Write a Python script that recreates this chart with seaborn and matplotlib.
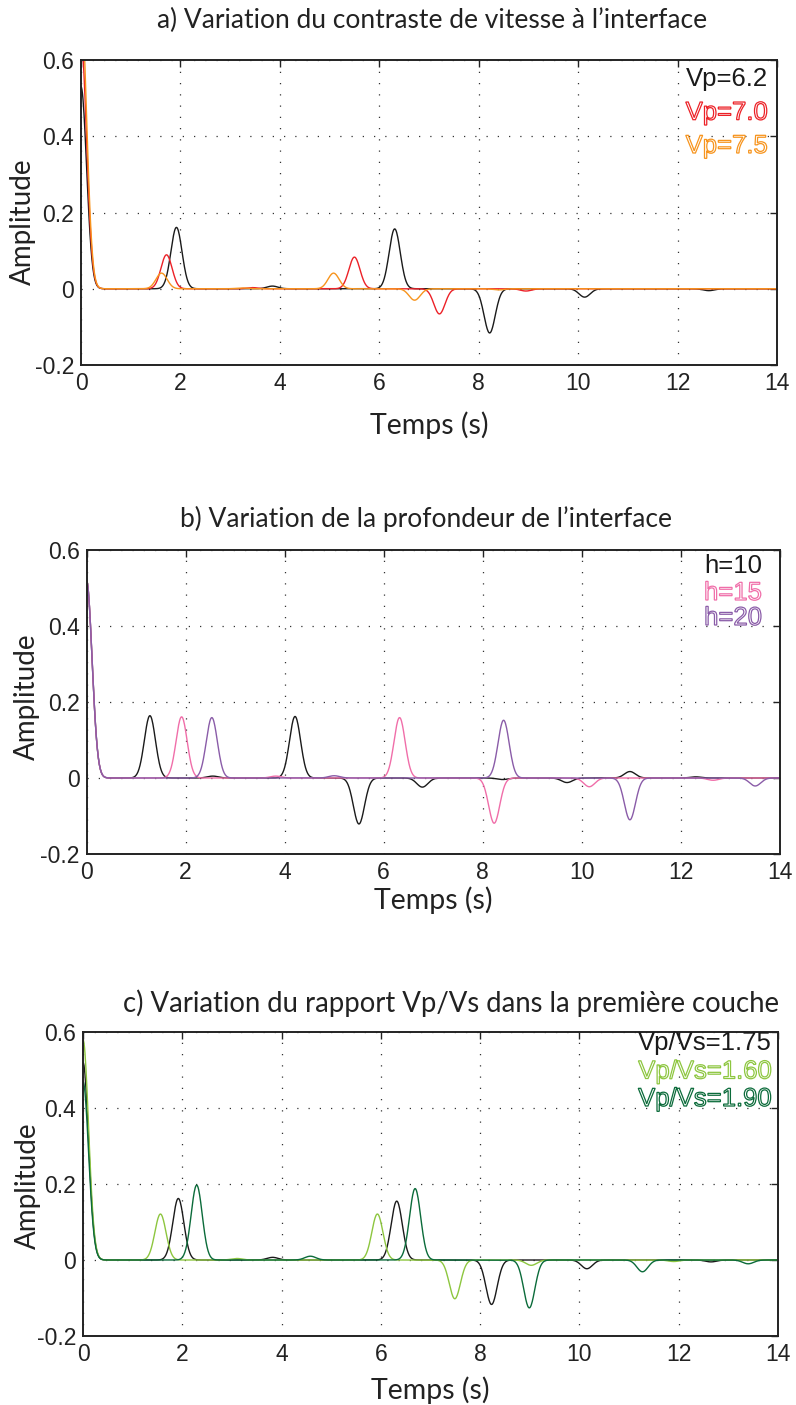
import numpy as np
import pandas as pd
import matplotlib
matplotlib.use("Agg")
import matplotlib.pyplot as plt
import matplotlib.patheffects as pe
import seaborn as sns

# ---------------- data (arrival times in s, amplitudes) ----------------
# Panel a) velocity contrast at the interface
a_vp62_times = [0.00, 1.92, 3.85, 6.31, 8.22, 10.13, 12.63]
a_vp62_amps = [0.53, 0.161, 0.007, 0.157, -0.116, -0.022, -0.005]
a_vp70_times = [0.00, 1.72, 3.45, 5.50, 7.21, 8.95]
a_vp70_amps = [0.65, 0.089, 0.003, 0.083, -0.066, -0.006]
a_vp75_times = [0.00, 1.62, 3.25, 5.08, 6.71, 8.40]
a_vp75_amps = [0.75, 0.041, 0.002, 0.041, -0.030, -0.003]

# Panel b) interface depth
b_h10_times = [0.00, 1.28, 2.55, 4.21, 5.50, 6.78, 8.40, 9.70, 10.97, 12.30]
b_h10_amps = [0.52, 0.164, 0.005, 0.162, -0.121, -0.024, -0.004, -0.012, 0.017, 0.003]
b_h15_times = [0.00, 1.92, 3.82, 6.32, 8.23, 10.15, 12.65]
b_h15_amps = [0.52, 0.161, 0.005, 0.159, -0.119, -0.023, -0.006]
b_h20_times = [0.00, 2.53, 5.00, 8.42, 10.97, 13.50]
b_h20_amps = [0.52, 0.159, 0.006, 0.152, -0.110, -0.021]

# Panel c) Vp/Vs ratio in the first layer
c_175_times = [0.00, 1.92, 3.82, 6.32, 8.23, 10.15, 12.65]
c_175_amps = [0.52, 0.162, 0.007, 0.155, -0.117, -0.023, -0.005]
c_160_times = [0.00, 1.56, 3.10, 5.93, 7.49, 9.03, 11.90]
c_160_amps = [0.58, 0.121, 0.004, 0.121, -0.102, -0.014, -0.004]
c_190_times = [0.00, 2.29, 4.58, 6.69, 8.99, 11.27, 13.40]
c_190_amps = [0.47, 0.197, 0.010, 0.188, -0.126, -0.031, -0.010]

titles = ["a) Variation du contraste de vitesse à l\u2019interface",
          "b) Variation de la profondeur de l\u2019interface",
          "c) Variation du rapport Vp/Vs dans la première couche"]
labels_a = ["Vp=6.2", "Vp=7.0", "Vp=7.5"]
labels_b = ["h=10", "h=15", "h=20"]
labels_c = ["Vp/Vs=1.75", "Vp/Vs=1.60", "Vp/Vs=1.90"]
colors_a = ["#1a1a1a", "#ec2127", "#f7941d"]
colors_b = ["#1a1a1a", "#f06ea9", "#8a5ca8"]
colors_c = ["#1a1a1a", "#8dc63f", "#0b6b3a"]
xticks = [0, 2, 4, 6, 8, 10, 12, 14]
yticks = [-0.2, 0, 0.2, 0.4, 0.6]
ytick_labels = ["-0.2", "0", "0.2", "0.4", "0.6"]

GAUSS_SIGMA = 0.112  # width of the Gaussian pulse (s)
t = np.linspace(0, 14, 1401)


def trace(times, amps):
    """Gaussian-filtered spike series (receiver-function style)."""
    out = np.zeros_like(t)
    for ti, ai in zip(times, amps):
        out += ai * np.exp(-((t - ti) ** 2) / (2 * GAUSS_SIGMA ** 2))
    return out


def frame(series):
    rows = []
    for name, (times, amps) in series.items():
        rows.append(pd.DataFrame({"t": t, "amp": trace(times, amps), "series": name}))
    return pd.concat(rows, ignore_index=True)


df_a = frame({labels_a[0]: (a_vp62_times, a_vp62_amps),
              labels_a[1]: (a_vp70_times, a_vp70_amps),
              labels_a[2]: (a_vp75_times, a_vp75_amps)})
df_b = frame({labels_b[0]: (b_h10_times, b_h10_amps),
              labels_b[1]: (b_h15_times, b_h15_amps),
              labels_b[2]: (b_h20_times, b_h20_amps)})
df_c = frame({labels_c[0]: (c_175_times, c_175_amps),
              labels_c[1]: (c_160_times, c_160_amps),
              labels_c[2]: (c_190_times, c_190_amps)})

# ---------------- style ----------------
sns.set_theme(style="white")
plt.rcParams["font.family"] = ["Liberation Sans", "DejaVu Sans"]
LABEL_FONT = ["Lato", "DejaVu Sans"]

W, H = 796, 1405
fig = plt.figure(figsize=(W / 100, H / 100), dpi=100)
fig.patch.set_facecolor("white")


def px_axes(left, top, right, bottom):
    return fig.add_axes([left / W, 1 - bottom / H, (right - left) / W, (bottom - top) / H])


panels = [
    dict(box=(81, 60, 777, 365), df=df_a, labels=labels_a, colors=colors_a,
         title_xy=(432, 20), title_fs=19, xlabel_y=425, ylabel_x=23, ylabel_y=222,
         leg_x=768, leg_y=[79, 112.7, 146]),
    dict(box=(86.5, 550, 780, 854), df=df_b, labels=labels_b, colors=colors_b,
         title_xy=(426, 519), title_fs=19, xlabel_y=900, ylabel_x=27, ylabel_y=697,
         leg_x=762, leg_y=[566, 593, 618]),
    dict(box=(83, 1032, 778, 1336), df=df_c, labels=labels_c, colors=colors_c,
         title_xy=(451, 1003), title_fs=19.8, xlabel_y=1390, ylabel_x=28, ylabel_y=1186,
         leg_x=772, leg_y=[1043, 1071.5, 1099]),
]

for i, p in enumerate(panels):
    l, tp, r, b = p["box"]
    ax = px_axes(l, tp, r, b)
    sns.lineplot(data=p["df"], x="t", y="amp", hue="series", hue_order=p["labels"],
                 palette=p["colors"], estimator=None, sort=False, legend=False,
                 linewidth=1.0, ax=ax)
    ax.set_xlim(0, 14)
    ax.set_ylim(-0.2, 0.6)
    ax.set_xticks(xticks)
    ax.set_xticklabels([str(x) for x in xticks])
    ax.set_yticks(yticks)
    ax.set_yticklabels(ytick_labels)
    ax.tick_params(direction="in", length=5, width=1.0, colors="#222222",
                   labelsize=16.5, labelcolor="#222222", top=True, right=True, pad=5)
    ax.grid(True, color="#333333", linestyle=(0, (1, 8)), linewidth=0.9)
    for s in ax.spines.values():
        s.set_visible(True)
        s.set_color("#222222")
        s.set_linewidth(1.4)
    ax.set_facecolor("white")

    # axis labels
    ax.set_xlabel("Temps (s)", fontsize=20.5, family=LABEL_FONT, color="#222222")
    ax.xaxis.set_label_coords(((l + r) / 2 - l) / (r - l), (b - p["xlabel_y"]) / (b - tp))
    ax.xaxis.label.set_va("center")
    ax.set_ylabel("Amplitude", fontsize=20, family=LABEL_FONT, color="#222222")
    ax.yaxis.set_label_coords((p["ylabel_x"] - l) / (r - l), (b - p["ylabel_y"]) / (b - tp))
    ax.yaxis.label.set_va("center")

    # title
    fig.text(p["title_xy"][0] / W, 1 - p["title_xy"][1] / H, titles[i],
             ha="center", va="center", fontsize=p["title_fs"], family=LABEL_FONT,
             color="#222222")

    # legend texts (first one filled, others outlined)
    for j, (lab, col) in enumerate(zip(p["labels"], p["colors"])):
        y = p["leg_y"][j]
        if j == 0:
            ax.text((p["leg_x"] - l) / (r - l), (b - y) / (b - tp), lab,
                    transform=ax.transAxes, ha="right", va="center",
                    fontsize=18.5, color=col)
        else:
            ax.text((p["leg_x"] - l) / (r - l), (b - y) / (b - tp), lab,
                    transform=ax.transAxes, ha="right", va="center",
                    fontsize=18.5, color="white",
                    path_effects=[pe.PathPatchEffect(edgecolor=col, facecolor="white",
                                                     linewidth=0.9)])

fig.savefig("out.png", dpi=100, facecolor="white")
